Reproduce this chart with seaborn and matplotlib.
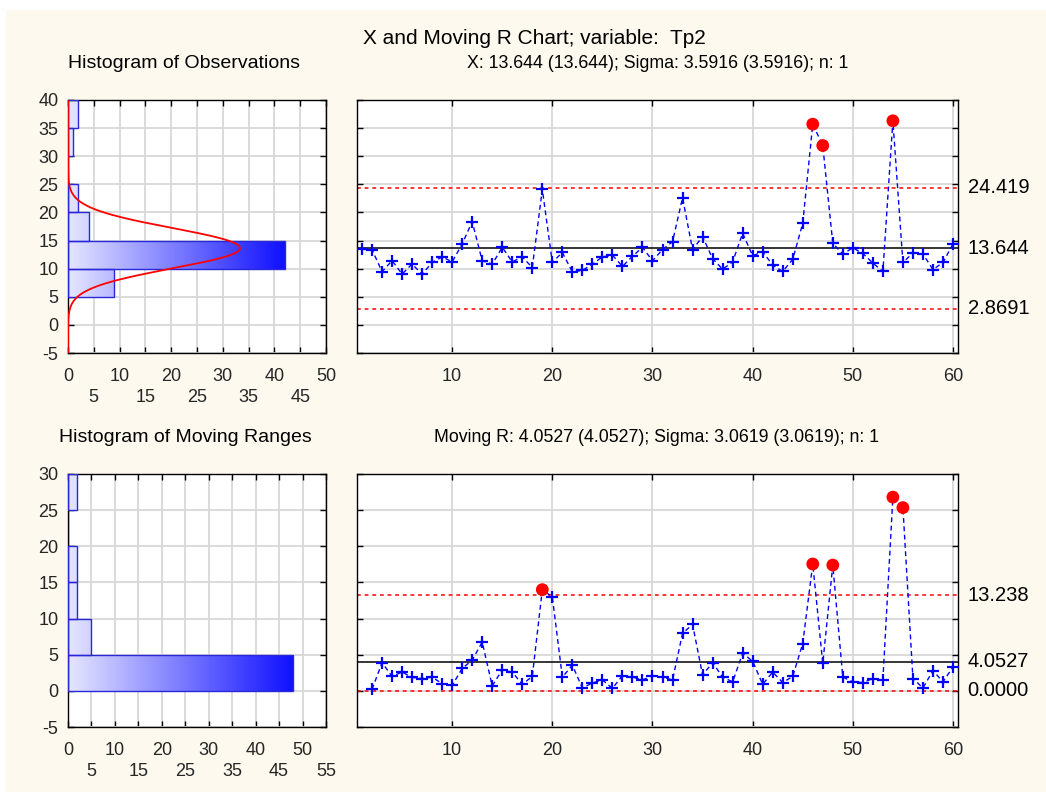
import numpy as np
import pandas as pd
import matplotlib
matplotlib.use('Agg')
import matplotlib.pyplot as plt
from matplotlib.colors import LinearSegmentedColormap
from matplotlib.patches import Rectangle
import seaborn as sns

# --- data ---
x_values = [13.44, 13.4, 9.47, 11.42, 9.05, 10.83, 9.0, 11.1, 12.1, 11.2,
            14.4, 18.36, 11.4, 10.8, 13.8, 11.2, 12.1, 10.2, 24.1, 11.1,
            12.9, 9.4, 9.7, 10.8, 12.1, 12.4, 10.4, 12.2, 13.8, 11.4,
            13.4, 14.8, 22.6, 13.4, 15.7, 11.8, 9.9, 11.2, 16.3, 12.3,
            13.0, 10.65, 9.5, 11.66, 18.07, 35.7, 31.9, 14.5, 12.6, 13.7,
            12.7, 11.0, 9.5, 36.3, 11.1, 12.8, 12.6, 9.85, 11.1, 14.4]
mr_values = [0.2, 3.9, 2.0, 2.6, 1.85, 1.7, 1.9, 1.0, 0.75, 3.1,
             4.25, 6.75, 0.7, 2.9, 2.6, 0.9, 2.0, 14.0, 13.0, 1.9,
             3.55, 0.4, 1.1, 1.5, 0.35, 2.1, 1.9, 1.5, 2.1, 1.9,
             1.5, 7.95, 9.2, 2.2, 3.9, 1.9, 1.25, 5.2, 4.1, 0.9,
             2.6, 1.15, 2.0, 6.55, 17.55, 3.8, 17.4, 1.9, 1.25, 1.15,
             1.7, 1.5, 26.8, 25.35, 1.7, 0.4, 2.8, 1.25, 3.3]

x_limits = [24.419, 13.644, 2.8691]   # UCL, CL, LCL
x_limit_labels = ['24.419', '13.644', '2.8691']
mr_limits = [13.238, 4.0527, 0.0]
mr_limit_labels = ['13.238', '4.0527', '0.0000']

x_sigma = 3.5916
bin_width = 5

x_hist_centers = [7.5, 12.5, 17.5, 22.5, 27.5, 32.5, 37.5]
x_hist_counts = [9, 42, 4, 2, 0, 1, 2]
mr_hist_centers = [2.5, 7.5, 12.5, 17.5, 22.5, 27.5]
mr_hist_counts = [48, 5, 2, 2, 0, 2]

main_title = 'X and Moving R Chart; variable:  Tp2'
x_hist_title = 'Histogram of Observations'
x_chart_title = 'X: 13.644 (13.644); Sigma: 3.5916 (3.5916); n: 1'
mr_hist_title = 'Histogram of Moving Ranges'
mr_chart_title = 'Moving R: 4.0527 (4.0527); Sigma: 3.0619 (3.0619); n: 1'

# --- style ---
sns.set_theme(style='ticks')
plt.rcParams['font.family'] = ['Liberation Sans', 'DejaVu Sans']
plt.rcParams['axes.unicode_minus'] = False
cream = '#fef9ee'
grid_c = '#d8d8d8'

W, H = 1046, 792
fig = plt.figure(figsize=(W / 100, H / 100), dpi=100, facecolor='white')
fig.patches.append(Rectangle((6 / W, 0), 1, (H - 10) / H, transform=fig.transFigure,
                             facecolor=cream, edgecolor='none', zorder=-10))


def px_axes(left, top, right, bottom):
    return fig.add_axes([left / W, (H - bottom) / H, (right - left) / W, (bottom - top) / H])


def style_axes(ax):
    ax.set_facecolor('white')
    for s in ax.spines.values():
        s.set_color('black')
        s.set_linewidth(1.0)
    ax.grid(True, color=grid_c, lw=1.3, zorder=0)
    ax.set_axisbelow(True)
    ax.tick_params(direction='in', length=4, width=1, color='black',
                   top=True, right=True, labelsize=13)
    ax.tick_params(axis='x', pad=10.5)
    ax.tick_params(axis='y', pad=7)


grad_cmap = LinearSegmentedColormap.from_list('grad', ['#e6e6ff', '#1010ff'])


def draw_hist(ax, centers, counts, xmax, ymin, ymax):
    df = pd.DataFrame({'y': centers, 'count': counts})
    sns.barplot(data=df, x='count', y='y', orient='y', native_scale=True, width=1.0,
                color='#e6e6ff', edgecolor='#2828d8', linewidth=1.0, ax=ax, zorder=2)
    top = max(counts)
    grad = np.linspace(0, 1, 256).reshape(1, -1)
    for p in list(ax.patches):
        if p.get_width() <= 0:
            continue
        im = ax.imshow(grad, cmap=grad_cmap, aspect='auto', extent=[0, top, ymin, ymax],
                       origin='lower', zorder=2.5, interpolation='bilinear')
        im.set_clip_path(p)
        p.set_facecolor('none')
        p.set_zorder(3)
    ax.set_xlim(0, xmax)
    ax.set_ylim(ymin, ymax)
    ticks = list(range(0, xmax + 1, 5))
    ax.set_xticks(ticks)
    ax.set_xticklabels([str(t) if t % 10 == 0 else '\n' + str(t) for t in ticks])
    for lab in ax.get_xticklabels():
        lab.set_linespacing(1.35)
    ax.set_yticks(list(range(ymin, ymax + 1, 5)))
    ax.set_xlabel('')
    ax.set_ylabel('')


def draw_chart(ax, samples, values, limits, labels, ymin, ymax):
    ax.axhline(limits[1], color='black', lw=1.1, zorder=2)
    for v in (limits[0], limits[2]):
        ax.axhline(v, color='#ff0000', lw=1.1, ls=(0, (2.5, 2.5)), zorder=2)
    sns.lineplot(x=samples, y=values, color='#0000ff', lw=1.0, ls=(0, (3.5, 2.5)),
                 ax=ax, zorder=3)
    vals = np.array(values)
    smp = np.array(samples)
    out = vals > limits[0]
    sns.scatterplot(x=smp[~out], y=vals[~out], marker='+', s=75, color='#0000ff',
                    linewidth=1.6, ax=ax, zorder=4)
    sns.scatterplot(x=smp[out], y=vals[out], marker='o', s=85, color='#ff0000',
                    edgecolor='none', ax=ax, zorder=5)
    ax.set_xlim(0.5, 60.5)
    ax.set_ylim(ymin, ymax)
    ax.set_xticks(range(10, 61, 10))
    ax.set_yticks(range(ymin, ymax + 1, 5))
    ax.tick_params(labelleft=False)
    ax.set_xlabel('')
    ax.set_ylabel('')
    tr = ax.get_yaxis_transform()
    for v, lab in zip(limits, labels):
        ax.text(1.016, v, lab, transform=tr, ha='left', va='center', fontsize=14.5, color='black')


# --- top row ---
ax1 = px_axes(68, 100, 326, 353)
style_axes(ax1)
draw_hist(ax1, x_hist_centers, x_hist_counts, 50, -5, 40)
ys = np.linspace(-5, 40, 400)
dens = len(x_values) * bin_width / (np.sqrt(2 * np.pi) * x_sigma) * \
    np.exp(-0.5 * ((ys - x_limits[1]) / x_sigma) ** 2)
sns.lineplot(x=dens, y=ys, orient='y', sort=False, color='#ff0000', lw=1.3, ax=ax1, zorder=6)
ax1.set_xlim(0, 50)
ax1.set_ylim(-5, 40)
ax1.set_xlabel('')

ax2 = px_axes(357, 100, 958, 353)
style_axes(ax2)
draw_chart(ax2, list(range(1, 61)), x_values, x_limits, x_limit_labels, -5, 40)

# --- bottom row ---
ax3 = px_axes(68, 474, 326, 727)
style_axes(ax3)
draw_hist(ax3, mr_hist_centers, mr_hist_counts, 55, -5, 30)

ax4 = px_axes(357, 474, 958, 727)
style_axes(ax4)
draw_chart(ax4, list(range(2, 61)), mr_values, mr_limits, mr_limit_labels, -5, 30)

# --- titles ---
def ftext(x, y, s, size):
    fig.text(x / W, 1 - y / H, s, ha='center', va='center', fontsize=size, color='black')


ftext(534, 38, main_title, 15)
ftext(184, 63, x_hist_title, 14)
ftext(658, 63, x_chart_title, 12.8)
ftext(185, 437, mr_hist_title, 14)
ftext(657, 437, mr_chart_title, 12.8)

fig.savefig('out.png', dpi=100, facecolor=fig.get_facecolor())
